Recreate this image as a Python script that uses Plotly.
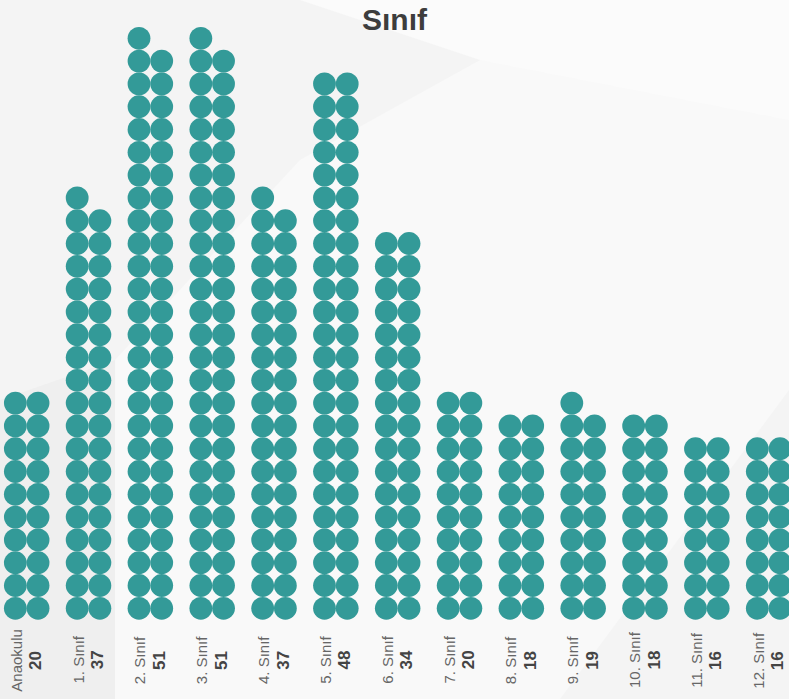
import plotly.graph_objects as go

categories = ["Anaokulu", "1. Sınıf", "2. Sınıf", "3. Sınıf", "4. Sınıf", "5. Sınıf", "6. Sınıf",
              "7. Sınıf", "8. Sınıf", "9. Sınıf", "10. Sınıf", "11. Sınıf", "12. Sınıf"]
values = [20, 37, 51, 51, 37, 48, 34, 20, 18, 19, 18, 16, 16]

W, H = 789, 699
CAT_PX = 61.83      # pixel pitch between categories
ROW_PX = 22.8       # pixel pitch between rows
FIRST_CX = 26.7     # pixel x of first category centre
BASE_PY = 608.3     # pixel y of bottom row centre
COL_OFF = 11.35 / CAT_PX

xs, ys = [], []
for i, v in enumerate(values):
    for k in range(v):
        row = k // 2
        col = k % 2
        xs.append(i + (-COL_OFF if col == 0 else COL_OFF))
        ys.append(row)

fig = go.Figure()
fig.add_trace(go.Scatter(
    x=xs, y=ys, mode="markers",
    marker=dict(size=22.8, color="#339a98", line=dict(width=0)),
    hoverinfo="skip", showlegend=False, cliponaxis=False,
))

x0 = -FIRST_CX / CAT_PX
x1 = x0 + W / CAT_PX
y0 = -(H - BASE_PY) / ROW_PX
y1 = BASE_PY / ROW_PX

label_y = (BASE_PY - 660) / ROW_PX
for i, (c, v) in enumerate(zip(categories, values)):
    fig.add_annotation(
        x=i, y=label_y, xref="x", yref="y",
        text=f"{c}<br><span style='color:#444444;font-size:17px'><b>{v}</b></span>",
        textangle=-90, showarrow=False, align="center",
        xanchor="center", yanchor="middle",
        font=dict(size=15, color="#666666", family="Liberation Sans, Arial, sans-serif"),
    )

def P(pts):
    s = "M " + " L ".join(f"{px / W:.4f},{1 - py / H:.4f}" for px, py in pts) + " Z"
    return s

shapes = [
    dict(type="path", xref="paper", yref="paper", layer="below", line=dict(width=0),
         fillcolor="#f9f9f9",
         path=P([(115, 360), (300, 160), (480, 60), (789, 0), (789, 390), (560, 699), (115, 699)])),
    dict(type="path", xref="paper", yref="paper", layer="below", line=dict(width=0),
         fillcolor="#fbfbfb",
         path=P([(300, 0), (789, 0), (789, 120), (480, 60)])),
    dict(type="path", xref="paper", yref="paper", layer="below", line=dict(width=0),
         fillcolor="#efefef",
         path=P([(0, 400), (115, 360), (115, 699), (0, 699)])),
]

fig.update_layout(
    width=W, height=H,
    margin=dict(l=0, r=0, t=0, b=0),
    paper_bgcolor="#f4f4f4", plot_bgcolor="rgba(0,0,0,0)",
    shapes=shapes,
    title=dict(text="<b>Sınıf</b>", x=0.5, xanchor="center", xref="paper",
               y=1 - 19 / H, yanchor="middle",
               font=dict(size=30, color="#3d3d3d", family="Liberation Sans, Arial, sans-serif")),
    xaxis=dict(range=[x0, x1], visible=False, fixedrange=True),
    yaxis=dict(range=[y0, y1], visible=False, fixedrange=True),
    font=dict(family="Liberation Sans, Arial, sans-serif"),
)

fig.write_html("out.html", config={"displayModeBar": False},
               post_script="document.body.style.margin='0';document.body.style.overflow='hidden';")
